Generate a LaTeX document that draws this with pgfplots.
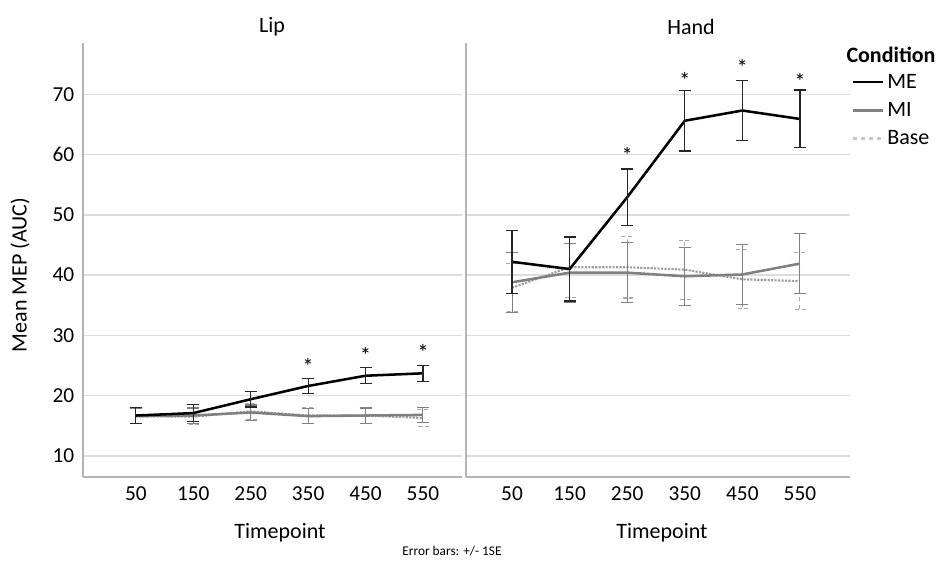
\documentclass[border=0pt]{standalone}
\usepackage{pgfplots}
\pgfplotsset{compat=1.18}
\usepackage{fontspec}
\setmainfont{Carlito}
\definecolor{gridc}{HTML}{DCDCDC}
\definecolor{axc}{HTML}{B4B4B4}
\definecolor{mic}{HTML}{808080}
\definecolor{basec}{HTML}{9C9C9C}
\definecolor{baseerr}{HTML}{A8A8A8}
\definecolor{baseleg}{HTML}{C8C8C8}
\newcommand{\lbl}{\fontsize{16.5}{19}\selectfont}
\begin{document}
\begin{tikzpicture}[x=0.75pt,y=0.75pt]
\path (0,0) rectangle (940,565);
\pgfplotsset{
 common/.style={
  scale only axis, height=325.5pt,
  ymin=6.5, ymax=78.5,
  ytick={10,20,...,70},
  yticklabels={10,20,30,40,50,60,70},
  xtick={0,...,5},
  xticklabels={50,150,250,350,450,550},
  axis x line=bottom, axis y line=left,
  axis line style={-, draw=axc, line width=1.2pt},
  major tick length=0pt,
  ymajorgrids, grid style={gridc, line width=1.1pt},
  tick label style={font=\fontsize{16}{19}\selectfont},
  xticklabel style={yshift=-4pt},
  yticklabel style={xshift=-3pt},
  clip=false,
 },
 me/.style={black, line width=1.9pt, mark=none,
   error bars/y dir=both, error bars/y explicit,
   error bars/error bar style={black!85, line width=0.9pt, solid},
   error bars/error mark options={rotate=90, black!85, line width=0.9pt, mark size=4.5pt, solid}},
 mi/.style={mic, line width=1.9pt, mark=none,
   error bars/y dir=both, error bars/y explicit,
   error bars/error bar style={mic, line width=0.8pt, solid},
   error bars/error mark options={rotate=90, mic, line width=0.8pt, mark size=4.5pt, solid}},
 base/.style={basec, line width=1.6pt, mark=none, densely dotted,
   error bars/y dir=both, error bars/y explicit,
   error bars/error bar style={baseerr, line width=0.8pt, dashed},
   error bars/error mark options={rotate=90, baseerr, line width=0.8pt, mark size=4.5pt, densely dashed}},
 stars/.style={draw=none, mark=none, nodes near coords={*},
   every node near coord/.append style={anchor=center, font=\fontsize{17}{19}\selectfont, black}},
}
% ---------------- Lip ----------------
\begin{axis}[common, at={(62.25pt,66pt)}, anchor=south west, width=284.25pt,
  xmin=-0.92, xmax=5.68]
\addplot[forget plot, base] coordinates {
 (0,16.6) +- (0,1.3) (1,16.5) +- (0,1.3) (2,17.4) +- (0,1.3)
 (3,16.7) +- (0,1.3) (4,16.7) +- (0,1.3) (5,16.3) +- (0,1.4)};
\addplot[forget plot, mi] coordinates {
 (0,16.6) +- (0,1.25) (1,16.7) +- (0,1.25) (2,17.2) +- (0,1.25)
 (3,16.6) +- (0,1.25) (4,16.7) +- (0,1.25) (5,16.8) +- (0,1.25)};
\addplot[forget plot, me] coordinates {
 (0,16.7) +- (0,1.35) (1,17.1) +- (0,1.4) (2,19.4) +- (0,1.3)
 (3,21.6) +- (0,1.3) (4,23.3) +- (0,1.35) (5,23.7) +- (0,1.35)};
\addplot[forget plot, stars] coordinates {(3,24.9) (4,26.6) (5,27.1)};
\end{axis}
% ---------------- Hand ----------------
\begin{axis}[common, at={(349.5pt,66pt)}, anchor=south west, width=288pt,
  xmin=-0.80, xmax=5.87, yticklabels={},
  legend style={draw=none, fill=none, at={(1.005,0.935)}, anchor=north west,
    font=\fontsize{16.5}{19}\selectfont, row sep=5pt, inner sep=0pt,
    cells={anchor=west}},
  legend image code/.code={\draw[#1] (0pt,0pt) -- (22.5pt,0pt);}]
\addplot[forget plot, base] coordinates {
 (0,37.9) +- (0,4.0) (1,41.3) +- (0,5.0) (2,41.3) +- (0,5.1)
 (3,40.9) +- (0,4.9) (4,39.3) +- (0,4.9) (5,39.0) +- (0,4.7)};
\addplot[forget plot, mi] coordinates {
 (0,38.8) +- (0,5.0) (1,40.4) +- (0,4.9) (2,40.4) +- (0,5.0)
 (3,39.8) +- (0,4.8) (4,40.1) +- (0,5.0) (5,41.9) +- (0,5.0)};
\addplot[forget plot, me] coordinates {
 (0,42.2) +- (0,5.2) (1,41.0) +- (0,5.3) (2,52.9) +- (0,4.7)
 (3,65.6) +- (0,5.0) (4,67.3) +- (0,5.0) (5,65.9) +- (0,4.8)};
\addplot[forget plot, stars] coordinates {(2,59.9) (3,72.3) (4,74.4) (5,72.1)};
\addlegendimage{black, line width=1.9pt}
\addlegendentry{ME}
\addlegendimage{mic, line width=1.9pt}
\addlegendentry{MI}
\addlegendimage{baseleg, line width=1.6pt, dashed}
\addlegendentry{Base}
\end{axis}
% ---------------- text ----------------
\node[font=\lbl] at (272,538) {Lip};
\node[font=\lbl] at (691,538) {Hand};
\node[font=\lbl, rotate=90] at (20,290) {Mean MEP (AUC)};
\node[font=\lbl] at (280,32) {Timepoint};
\node[font=\lbl] at (662,32) {Timepoint};
\node[font=\fontsize{10}{12}\selectfont] at (452,14) {Error bars: +/- 1SE};
\node[font=\lbl\bfseries] at (891,510) {Condition};
\end{tikzpicture}
\end{document}
